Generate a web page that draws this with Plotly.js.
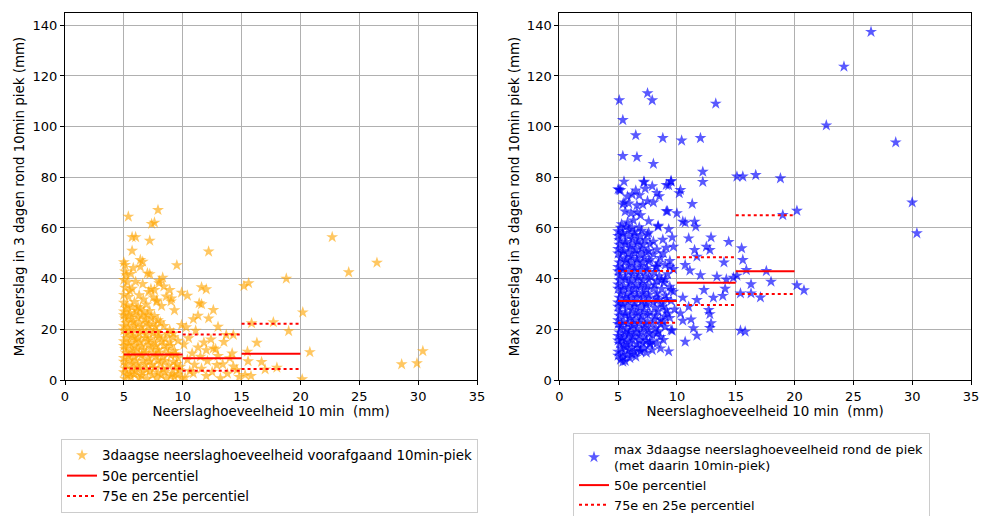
<!DOCTYPE html>
<html>
<head>
<meta charset="utf-8">
<script src="https://cdn.plot.ly/plotly-3.0.1.min.js"></script>
<style>
html,body{margin:0;padding:0;background:#fff;overflow:hidden;}
#chart{width:981px;height:540px;}
</style>
</head>
<body>
<div id="chart"></div>
<script>
// ---------- DATA ----------
// Left: 3daagse neerslag voorafgaand aan 10min-piek  [x = 10-min neerslag, y = 3-daagse neerslag]
const orangeCore = [
  [5.1,0.5],[5.6,1.2],[6.3,0.8],[7.0,0.4],[7.8,1.0],[8.6,0.6],[9.3,1.3],[9.9,0.7],
  [5.0,3.1],[5.5,2.6],[6.0,3.4],[6.6,2.9],[7.2,3.6],[7.9,2.8],[8.5,3.3],[9.1,2.5],[9.7,3.9],
  [5.2,5.8],[5.7,6.4],[6.2,5.5],[6.8,6.2],[7.4,5.9],[8.1,6.6],[8.8,5.7],[9.5,6.3],
  [5.0,8.7],[5.4,9.5],[5.9,8.9],[6.5,9.8],[7.1,8.6],[7.7,9.4],[8.3,9.0],[9.0,9.7],[9.6,8.8],
  [5.1,12.2],[5.6,11.6],[6.1,12.5],[6.7,11.8],[7.3,12.6],[7.9,11.9],[8.6,12.3],[9.3,11.5],
  [5.0,15.3],[5.5,14.7],[6.0,15.6],[6.4,14.9],[7.0,15.4],[7.6,14.6],[8.2,15.2],[8.9,14.8],[9.6,15.5],
  [5.2,18.1],[5.7,17.6],[6.3,18.4],[6.9,17.8],[7.5,18.5],[8.0,17.5],[8.7,18.2],
  [5.0,21.2],[5.4,20.6],[5.9,21.5],[6.5,20.8],[7.1,21.6],[7.7,20.9],[8.4,21.3],
  [5.1,24.3],[5.6,23.7],[6.2,24.6],[6.8,23.9],[7.3,24.5],[7.9,23.6],
  [5.0,27.1],[5.5,26.5],[6.1,27.4],[6.7,26.8],[7.2,27.3]
];
const orangeCore2 = [
  [5.3,1.9],[5.9,2.2],[6.5,1.6],[7.4,2.0],[8.2,1.8],[9.0,1.5],[9.6,2.1],
  [5.1,4.6],[5.7,4.4],[6.3,4.9],[6.9,4.2],[7.6,4.8],[8.3,4.5],[9.4,4.7],
  [5.0,7.2],[5.5,7.9],[6.0,7.4],[6.6,7.7],[7.2,7.3],[7.9,7.8],[8.5,7.5],[9.2,7.1],[9.8,5.2],
  [5.2,10.6],[5.8,10.9],[6.3,10.3],[6.9,10.7],[7.5,10.5],[8.0,10.9],[8.8,10.4],[9.4,10.2],
  [5.0,13.4],[5.4,13.8],[5.9,13.5],[6.5,13.2],[7.1,13.9],[7.7,13.3],[8.4,13.7],[9.0,13.4],
  [5.2,16.5],[5.8,16.9],[6.2,16.3],[6.8,16.7],[7.3,16.2],[7.9,16.8],[8.5,16.4],[9.2,16.9],
  [5.0,19.6],[5.5,19.3],[6.0,19.9],[6.6,19.4],[7.2,19.8],[7.8,19.2],[8.9,19.7],
  [5.2,22.5],[5.8,22.9],[6.3,22.3],[6.9,22.7],[7.5,22.2],[8.1,22.8],
  [5.0,25.6],[5.4,25.2],[5.9,25.9],[6.5,25.4],[7.0,25.8],[7.6,25.3],
  [5.2,28.3],[5.7,28.7],[6.4,28.2]
];
const orangeSpread = [
  [5.0,30.5],[5.3,29.4],[5.0,33.6],[5.4,32.8],[5.1,36.4],[5.5,35.2],[5.0,39.5],[5.3,38.6],
  [5.1,42.8],[5.6,41.9],[5.0,46.5],[5.8,44.2],[5.9,30.8],[6.3,33.5],[6.0,38.8],[6.6,37.9],
  [7.1,34.8],[7.3,35.9],[7.8,31.4],[8.0,38.2],[8.4,36.9],[8.6,33.0],[9.0,31.0],[9.3,27.5],
  [6.9,29.8],[6.2,28.8],[7.5,32.6],[8.2,29.2],
  [10.2,1.0],[10.6,3.5],[11.0,6.0],[10.4,8.0],[10.8,10.5],[11.3,12.8],[10.1,14.0],[10.5,16.5],
  [11.1,19.5],[10.3,20.8],[11.6,4.5],[12.1,7.5],[12.5,3.2],[13.0,9.5],[13.4,6.2],[13.8,2.5],
  [14.2,10.5],[14.6,4.0],[11.8,14.8],[12.8,12.2],[13.5,15.0],[10.9,24.0],[14.8,1.2]
];
const orangeOutliers = [
  [5.38,64.5],[7.9,67.1],[7.36,61.6],[7.6,62.1],[5.7,56.4],[6.0,56.4],[7.2,55.0],[5.7,51.0],
  [12.2,50.7],[9.5,45.3],[6.4,47.4],[6.6,46.7],[5.1,45.4],[22.7,56.4],[24.1,42.5],[26.5,46.3],
  [18.8,40.0],[15.2,37.1],[15.6,38.2],[20.2,26.7],[17.7,22.8],[15.85,22.4],[19.0,19.3],[20.8,11.0],
  [30.4,11.4],[28.6,6.2],[29.9,6.6],[20.15,0.3],[16.3,14.7],[15.5,11.2],[15.55,7.4],[16.7,7.1],
  [18.0,4.9],[17.0,4.2],[15.8,1.6],[15.3,2.0],[10.4,33.3],[9.9,34.5],[11.4,30.3],[11.6,29.9],
  [11.6,36.6],[12.0,35.8],[12.6,27.6],[11.3,25.4],[12.2,24.3],[13.0,21.0],[12.4,16.0],[13.7,17.8],
  [14.3,17.8],[8.3,40.4],[8.0,39.1],[8.9,35.5],[9.05,32.2],[7.0,42.1],[7.2,41.8],[6.4,44.7],
  [7.6,35.5],[5.2,41.4],[5.7,36.0],[6.65,31.8],[7.8,30.9],[9.9,21.7],[9.2,18.4],[12.0,11.8],
  [11.5,9.2],[12.6,12.5],[14.0,8.6],[14.3,5.3],[12.9,5.9],[10.9,2.6],[12.0,1.6],[13.2,0.7]
];

// Right: max 3daagse neerslag rond de piek (met daarin 10min-piek)
const blueCore = [
  [5.2,8.0],[5.6,7.5],[6.0,8.6],[6.5,9.2],
  [5.0,11.2],[5.4,10.6],[5.9,11.8],[6.4,11.0],[6.9,11.5],[7.4,10.8],
  [5.1,14.3],[5.5,13.7],[6.0,14.8],[6.6,14.1],[7.1,14.6],[7.7,13.9],[8.3,14.5],
  [5.0,17.4],[5.4,16.8],[5.9,17.9],[6.3,17.1],[6.8,17.6],[7.3,16.9],[7.9,17.7],[8.6,17.0],
  [5.2,20.5],[5.7,19.8],[6.1,20.9],[6.6,20.2],[7.2,20.7],[7.6,19.9],[8.2,20.4],[9.0,21.0],[9.6,19.5],
  [5.0,23.6],[5.5,23.0],[6.0,24.1],[6.4,23.3],[6.9,23.9],[7.5,23.1],[8.1,24.0],[8.8,23.2],[9.4,24.5],
  [5.1,27.0],[5.6,26.4],[6.2,27.5],[6.7,26.7],[7.2,27.3],[7.7,26.5],[8.4,27.1],[9.2,26.3],[9.8,27.8],
  [5.0,30.6],[5.4,30.0],[5.9,31.1],[6.4,30.3],[7.0,30.9],[7.4,30.1],[8.0,30.7],[8.7,29.9],[9.5,31.2],
  [5.2,34.1],[5.7,33.5],[6.1,34.6],[6.6,33.8],[7.1,34.4],[7.6,33.6],[8.3,34.2],[9.0,33.4],[9.7,34.9],
  [5.0,37.7],[5.5,37.0],[6.0,38.1],[6.5,37.3],[7.0,37.9],[7.5,37.1],[8.1,37.6],[8.9,38.4],[9.4,36.8],
  [5.1,41.2],[5.6,40.5],[6.2,41.6],[6.7,40.8],[7.3,41.4],[7.8,40.6],[8.5,41.0],[9.2,41.8],
  [5.0,44.6],[5.4,44.0],[5.9,45.1],[6.4,44.3],[6.9,44.9],[7.4,44.1],[8.2,44.7],[9.0,45.4],[9.7,43.8],
  [5.2,48.1],[5.7,47.5],[6.1,48.6],[6.6,47.8],[7.2,48.3],[7.7,47.4],[8.6,48.2],[9.4,47.0],
  [5.0,51.7],[5.5,51.0],[6.0,52.1],[6.5,51.3],[7.0,51.9],[7.6,50.9],[8.3,51.5],[9.1,52.2],[9.7,52.6],
  [5.1,55.2],[5.6,54.5],[6.2,55.6],[6.7,54.8],[7.3,55.3],[8.0,54.6],[8.8,55.4],[9.6,56.3],
  [5.0,58.7],[5.4,58.0],[5.9,59.2],[6.4,58.3],[7.0,58.9],[7.6,58.1],[8.4,60.5],[9.3,59.5]
];
const blueCore2 = [
  [5.0,9.6],[5.4,9.0],[5.8,9.9],[6.2,10.2],[5.3,12.5],[5.7,12.9],[6.2,12.7],[6.7,12.8],[7.2,12.6],
  [5.0,15.6],[5.3,15.9],[5.7,15.4],[6.2,16.0],[6.8,15.7],[7.4,15.5],[7.9,15.2],
  [5.1,18.8],[5.6,18.4],[6.0,19.0],[6.5,18.6],[7.0,19.1],[7.6,18.5],[8.4,19.1],
  [5.0,22.1],[5.3,21.7],[5.8,22.3],[6.3,21.8],[6.8,22.4],[7.3,21.9],[7.9,22.2],[8.6,22.0],
  [5.1,25.4],[5.6,25.8],[6.0,25.3],[6.5,25.9],[7.0,25.2],[7.5,25.7],[8.2,25.5],[9.0,25.1],
  [5.0,28.9],[5.4,29.3],[5.9,28.7],[6.4,29.2],[6.9,28.8],[7.4,29.4],[8.1,28.6],[8.8,29.0],
  [5.1,32.5],[5.6,32.1],[6.1,32.8],[6.6,32.3],[7.1,32.9],[7.6,32.2],[8.3,32.6],[9.1,32.0],
  [5.0,36.0],[5.4,35.6],[5.9,36.3],[6.4,35.8],[6.9,36.4],[7.4,35.7],[8.0,36.1],[8.7,35.9],
  [5.1,39.4],[5.6,39.8],[6.1,39.2],[6.6,39.9],[7.1,39.3],[7.6,39.7],[8.3,39.1],[9.0,39.8],
  [5.0,42.9],[5.4,43.3],[5.9,42.7],[6.4,43.2],[6.9,42.8],[7.5,43.4],[8.1,42.6],
  [5.1,46.4],[5.6,46.8],[6.1,46.2],[6.6,46.9],[7.1,46.3],[7.6,46.7],[8.4,46.1],
  [5.0,49.9],[5.4,50.3],[5.9,49.7],[6.4,50.2],[6.9,49.8],[7.4,50.4],[8.0,49.6],
  [5.1,53.4],[5.6,53.8],[6.1,53.2],[6.6,53.9],[7.1,53.3],[7.7,53.7],
  [5.0,56.9],[5.4,57.3],[5.9,56.7],[6.4,57.2],[6.9,56.8],[7.5,57.4],
  [5.2,60.1],[5.7,60.5],[6.2,59.9],[6.8,60.3]
];
const blueUpper = [
  [5.3,61.5],[5.8,62.2],[6.3,63.0],[6.1,65.8],[6.6,66.2],[5.6,66.5],[5.9,69.7],[5.5,70.1],
  [6.6,68.9],[7.1,69.2],[7.5,70.6],[8.0,70.1],[8.3,73.8],[8.5,72.5],[6.2,73.2],[6.8,72.9],
  [5.8,72.4],[5.2,74.9],[5.1,75.0],[6.5,74.8],[7.3,75.5],[7.9,76.5],[7.2,78.0],[9.3,76.8],
  [9.5,78.6],[9.2,66.6],[7.6,62.7],[8.4,60.9],[6.9,65.0],[5.4,69.3],
  [8.85,50.0],[8.3,44.7],[9.4,44.7],[8.7,39.5],[9.5,35.5],[8.4,31.6],[9.1,27.6],[8.6,23.7],
  [9.5,19.7],[8.3,18.4],[8.85,15.8],[7.7,14.5],[6.9,11.2]
];
const blueOutliers = [
  [5.1,110.4],[7.5,113.2],[7.9,110.4],[5.4,102.6],[13.3,109.1],[6.5,96.6],[8.8,95.5],[10.4,94.5],
  [12.0,95.5],[5.4,88.4],[6.6,88.0],[8.0,85.3],[12.2,82.2],[12.2,78.2],[15.1,80.3],[15.6,80.3],
  [16.7,80.9],[18.8,79.6],[22.7,100.5],[24.2,123.7],[26.5,137.4],[28.6,93.8],[30.0,70.1],[30.4,57.9],
  [20.2,66.8],[19.0,65.1],[10.3,75.0],[10.2,73.7],[9.5,78.3],[9.1,77.0],[7.2,78.3],[5.5,78.3],
  [5.0,75.3],[11.3,69.5],[10.0,65.8],[9.1,66.6],[10.5,62.5],[10.7,62.1],[11.5,62.5],[11.6,60.5],
  [11.0,55.9],[12.9,56.3],[14.4,54.5],[15.5,52.0],[15.6,47.4],[15.9,43.4],[14.0,46.4],[11.5,51.3],
  [11.7,48.7],[12.5,52.6],[12.8,51.3],[10.7,45.4],[14.2,39.7],[14.1,36.0],[13.9,33.2],[13.1,32.5],
  [12.3,35.5],[16.3,37.8],[18.0,38.8],[17.6,43.0],[17.1,32.6],[16.3,34.2],[15.4,34.2],[20.2,37.4],
  [20.8,35.4],[15.4,19.5],[15.8,19.1],[12.8,20.5],[12.9,22.4],[12.7,27.6],[12.8,26.0],[11.7,17.5],
  [11.2,23.9],[11.4,20.4],[10.5,23.4],[10.7,15.1],[9.3,11.3],[8.6,12.5],[7.9,11.8],[5.4,7.2],
  [15.1,41.2],[14.8,40.4],[13.4,40.8],[12.0,41.4],[11.1,43.2],[11.7,31.6],[10.5,32.5],[11.0,28.9],
  [10.3,26.3]
];

// Percentiles per bin of 10-min neerslag
const binStart = [5, 10, 15];
const binEnd   = [10, 15, 20];
const leftP50  = [10.1, 8.55, 10.4];
const leftP75  = [18.9, 18.0, 22.2];
const leftP25  = [4.5, 3.7, 4.3];
const rightP50 = [31.2, 38.4, 42.9];
const rightP75 = [43.0, 48.4, 65.0];
const rightP25 = [22.6, 29.6, 33.9];

const xTicks = [0, 5, 10, 15, 20, 25, 30, 35];
const yTicks = [0, 20, 40, 60, 80, 100, 120, 140];

// ---------- BUILD ----------
function xs(arrs){ return [].concat(...arrs).map(p => p[0]); }
function ys(arrs){ return [].concat(...arrs).map(p => p[1]); }
function segs(vals){
  const X = [], Y = [];
  vals.forEach((v,i) => { X.push(binStart[i], binEnd[i], null); Y.push(v, v, null); });
  return {X, Y};
}
function segs2(a, b){
  const s1 = segs(a), s2 = segs(b);
  return {X: s1.X.concat(s2.X), Y: s1.Y.concat(s2.Y)};
}

const FONT = 'DejaVu Sans, sans-serif';
const H = 540; // drawing height; the window shows the top 516 px
const lp50 = segs(leftP50), lp = segs2(leftP75, leftP25);
const rp50 = segs(rightP50), rp = segs2(rightP75, rightP25);
const orangeAll = [orangeCore, orangeCore2, orangeSpread, orangeOutliers];
const blueAll = [blueCore, blueCore2, blueUpper, blueOutliers];

const traces = [
  {type:'scatter', mode:'markers', x: xs(orangeAll), y: ys(orangeAll),
   marker:{symbol:'star', size:9, color:'orange', opacity:0.62, line:{width:0}},
   name:'3daagse neerslaghoeveelheid voorafgaand 10min-piek', xaxis:'x', yaxis:'y', legend:'legend'},
  {type:'scatter', mode:'lines', x: lp50.X, y: lp50.Y, line:{color:'red', width:2},
   name:'50e percentiel', xaxis:'x', yaxis:'y', legend:'legend', connectgaps:false},
  {type:'scatter', mode:'lines', x: lp.X, y: lp.Y, line:{color:'red', width:2, dash:'dot'},
   name:'75e en 25e percentiel', xaxis:'x', yaxis:'y', legend:'legend', connectgaps:false},

  {type:'scatter', mode:'markers', x: xs(blueAll), y: ys(blueAll),
   marker:{symbol:'star', size:9, color:'blue', opacity:0.65, line:{width:0}},
   name:'max 3daagse neerslaghoeveelheid rond de piek<br>(met daarin 10min-piek)', xaxis:'x2', yaxis:'y2', legend:'legend2'},
  {type:'scatter', mode:'lines', x: rp50.X, y: rp50.Y, line:{color:'red', width:2},
   name:'50e percentiel', xaxis:'x2', yaxis:'y2', legend:'legend2', connectgaps:false},
  {type:'scatter', mode:'lines', x: rp.X, y: rp.Y, line:{color:'red', width:2, dash:'dot'},
   name:'75e en 25e percentiel', xaxis:'x2', yaxis:'y2', legend:'legend2', connectgaps:false}
];

const yTitle = 'Max neerslag in 3 dagen rond 10min piek (mm)';
const xTitle = 'Neerslaghoeveelheid 10 min  (mm)';

function xAxis(domain, anchor){
  return {domain, anchor, range:[0,35], tickvals:xTicks, ticktext:xTicks.map(String),
    showgrid:true, gridcolor:'#b0b0b0', gridwidth:1, zeroline:false,
    showline:true, linecolor:'#000', linewidth:1, mirror:true,
    ticks:'outside', ticklen:4, tickcolor:'#000', tickwidth:1,
    tickfont:{family:FONT, size:13, color:'#000'},
    title:{text:xTitle, font:{family:FONT, size:13.4, color:'#000'}, standoff:2}, automargin:false};
}
function yAxis(domain, anchor){
  return {domain, anchor, range:[0,144.85], tickvals:yTicks, ticktext:yTicks.map(String),
    showgrid:true, gridcolor:'#b0b0b0', gridwidth:1, zeroline:false,
    showline:true, linecolor:'#000', linewidth:1, mirror:true,
    ticks:'outside', ticklen:4, tickcolor:'#000', tickwidth:1,
    tickfont:{family:FONT, size:13, color:'#000'},
    title:{text:yTitle, font:{family:FONT, size:13.4, color:'#000'}, standoff:4}, automargin:false};
}

const legendBase = {
  bgcolor:'rgba(255,255,255,0.8)', bordercolor:'#cccccc', borderwidth:1,
  xanchor:'left', yanchor:'top', tracegroupgap:0, itemwidth:30
};

const yDom = [(H-380)/H, (H-13)/H];
const layout = {
  width:981, height:H,
  margin:{l:0, r:0, t:0, b:0},
  paper_bgcolor:'#fff', plot_bgcolor:'#fff',
  showlegend:true,
  xaxis: xAxis([65/981, 477/981], 'y'),
  yaxis: yAxis(yDom, 'x'),
  xaxis2: xAxis([559.3/981, 971/981], 'y2'),
  yaxis2: yAxis(yDom, 'x2'),
  legend: Object.assign({}, legendBase, {x:61/981, y:(H-439)/H,
    font:{family:FONT, size:13.4, color:'#000'}}),
  legend2: Object.assign({}, legendBase, {x:573/981, y:(H-433)/H,
    font:{family:FONT, size:12.8, color:'#000'}})
};

Plotly.newPlot('chart', traces, layout, {displayModeBar:false, staticPlot:true});
</script>
</body>
</html>
